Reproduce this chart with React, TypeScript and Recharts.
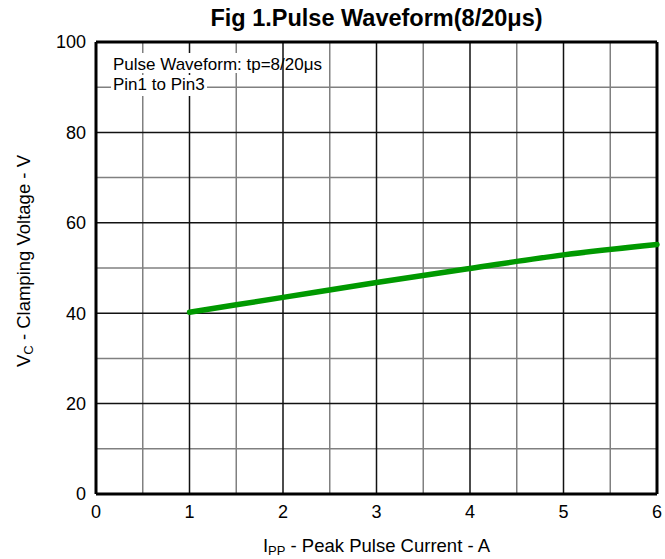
import { LineChart, Line, XAxis, YAxis, ReferenceLine } from "recharts";

const currentA = [1, 2, 3, 4, 5, 6];
const clampV = [40.2, 43.5, 46.8, 49.9, 52.9, 55.2];

const xTicks = [0, 1, 2, 3, 4, 5, 6];
const yTicks = [0, 20, 40, 60, 80, 100];
const xMinor = [0.5, 1.5, 2.5, 3.5, 4.5, 5.5];
const xMajor = [1, 2, 3, 4, 5];
const yMinor = [10, 30, 50, 70, 90];
const yMajor = [20, 40, 60, 80];

const data = currentA.map((a, i) => ({ a, v: clampV[i] }));

const font = "'Liberation Sans', Arial, sans-serif";
const tick = { fontSize: 18, fill: "#000", fontFamily: font };

export default function App() {
  return (
    <div style={{ position: "relative", width: 665, height: 559, background: "#fff", fontFamily: font }}>
      <style>{"body{margin:0;overflow:hidden}"}</style>
      <LineChart width={665} height={559} data={data} margin={{ top: 42, right: 8, bottom: 35, left: 0 }}>
        <XAxis
          dataKey="a"
          type="number"
          domain={[0, 6]}
          ticks={xTicks}
          height={30}
          tick={tick}
          tickLine={false}
          tickSize={8}
          tickMargin={3}
          axisLine={{ stroke: "#000", strokeWidth: 3 }}
        />
        <YAxis
          type="number"
          domain={[0, 100]}
          ticks={yTicks}
          width={96}
          tick={tick}
          tickLine={false}
          tickSize={8}
          tickMargin={2}
          axisLine={{ stroke: "#000", strokeWidth: 3 }}
        />
        {xMinor.map((x) => (
          <ReferenceLine key={"xm" + x} x={x} stroke="#808080" strokeWidth={1.5} />
        ))}
        {yMinor.map((y) => (
          <ReferenceLine key={"ym" + y} y={y} stroke="#808080" strokeWidth={1.5} />
        ))}
        {xMajor.map((x) => (
          <ReferenceLine key={"xM" + x} x={x} stroke="#111" strokeWidth={1.5} />
        ))}
        {yMajor.map((y) => (
          <ReferenceLine key={"yM" + y} y={y} stroke="#111" strokeWidth={1.5} />
        ))}
        <ReferenceLine y={100} stroke="#000" strokeWidth={3} />
        <ReferenceLine x={6} stroke="#000" strokeWidth={3} />
        <Line
          dataKey="v"
          type="monotone"
          stroke="#009900"
          strokeWidth={5.5}
          strokeLinecap="round"
          dot={false}
          isAnimationActive={false}
        />
      </LineChart>
      <svg
        width={665}
        height={559}
        style={{ position: "absolute", left: 0, top: 0, pointerEvents: "none" }}
        fontFamily={font}
      >
        <text x={376.5} y={26} textAnchor="middle" fontSize={23.5} fontWeight="bold">
          Fig 1.Pulse Waveform(8/20μs)
        </text>
        <rect x={111} y={53} width={170} height={20} fill="#fff" />
        <rect x={111} y={75} width={96} height={21} fill="#fff" />
        <text x={113} y={69.5} fontSize={17}>Pulse Waveform: tp=8/20μs</text>
        <text x={113} y={89.5} fontSize={17}>Pin1 to Pin3</text>
        <text x={376.5} y={552} textAnchor="middle" fontSize={18.5}>
          I<tspan fontSize={13} dy={3}>PP</tspan>
          <tspan dy={-3}> - Peak Pulse Current - A</tspan>
        </text>
        <text x={30} y={261} textAnchor="middle" fontSize={18.5} transform="rotate(-90 30 261)">
          V<tspan fontSize={13} dy={3}>C</tspan>
          <tspan dy={-3}> - Clamping Voltage - V</tspan>
        </text>
      </svg>
    </div>
  );
}
